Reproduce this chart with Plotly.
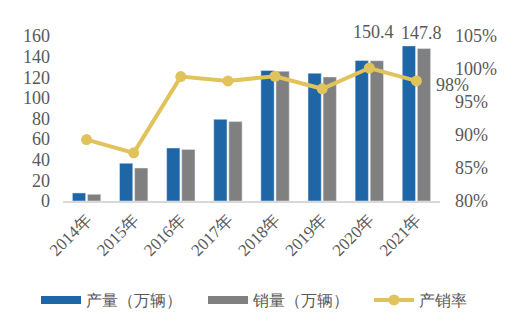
import plotly.graph_objects as go

years = ["2014年", "2015年", "2016年", "2017年", "2018年", "2019年", "2020年", "2021年"]
production = [7.8, 36.6, 51.4, 79.2, 126.5, 123.9, 136.2, 150.4]
sales = [6.5, 32.0, 50.0, 77.0, 125.8, 120.3, 136.0, 147.8]
ratio = [89.3, 87.3, 98.85, 98.2, 98.9, 97.0, 100.15, 98.2]
ratio_label = "98%"

FONT = "Liberation Serif"
GRAY = "#595959"
BLUE = "#1F66A6"
GREY_BAR = "#808080"
GOLD = "#E1C35B"

fig = go.Figure()
fig.add_trace(go.Bar(x=years, y=production, name="产量（万辆）", marker_color=BLUE,
                     yaxis="y", showlegend=False))
fig.add_trace(go.Bar(x=years, y=sales, name="销量（万辆）", marker_color=GREY_BAR,
                     yaxis="y", showlegend=False))
fig.add_trace(go.Scatter(x=years, y=ratio, name="产销率", yaxis="y2",
                         mode="lines+markers", cliponaxis=False,
                         line=dict(color=GOLD, width=4),
                         marker=dict(color=GOLD, size=11), showlegend=False))

# legend entries (one legend each, for exact placement)
fig.add_trace(go.Scatter(x=[None], y=[None], name="产量（万辆）", mode="lines",
                         line=dict(color=BLUE, width=8), legend="legend"))
fig.add_trace(go.Scatter(x=[None], y=[None], name="销量（万辆）", mode="lines",
                         line=dict(color=GREY_BAR, width=8), legend="legend2"))
fig.add_trace(go.Scatter(x=[None], y=[None], name="产销率", mode="lines+markers",
                         line=dict(color=GOLD, width=4), marker=dict(color=GOLD, size=11),
                         legend="legend3"))

fig.add_annotation(x=years[-1], y=production[-1], text=f"{production[-1]}", showarrow=False,
                   xref="x", yref="y", xshift=-43, yshift=14,
                   font=dict(size=18, color=GRAY, family=FONT))
fig.add_annotation(x=years[-1], y=sales[-1], text=f"{sales[-1]}", showarrow=False,
                   xref="x", yref="y", xshift=5, yshift=16,
                   font=dict(size=18, color=GRAY, family=FONT))
fig.add_annotation(x=years[-1], y=ratio[-1], text=ratio_label, showarrow=False,
                   xref="x", yref="y2", xanchor="left", xshift=18, yshift=-4,
                   font=dict(size=18, color=GRAY, family=FONT))

W, H = 527, 334
def leg(xpx):
    return dict(orientation="h", xref="container", yref="container",
                x=xpx / W, xanchor="left", y=(H - 300) / H, yanchor="middle",
                font=dict(size=16, color=GRAY, family=FONT), itemwidth=40,
                bgcolor="rgba(0,0,0,0)")

fig.update_layout(
    width=W, height=H,
    margin=dict(l=63, r=87, t=36, b=133, autoexpand=False),
    paper_bgcolor="white", plot_bgcolor="white",
    font=dict(family=FONT, color=GRAY, size=16),
    barmode="group", bargap=0.36, bargroupgap=0.12,
    showlegend=True,
    legend=leg(36), legend2=leg(203), legend3=leg(369),
    xaxis=dict(range=[-0.5, len(years) - 0.5], autorange=False,
               showgrid=False, showline=True, linecolor="#D9D9D9", linewidth=2,
               tickangle=-45, ticks="", tickfont=dict(size=17, color=GRAY, family=FONT)),
    yaxis=dict(range=[0, 160], dtick=20, showgrid=False, zeroline=False,
               ticks="", ticklabelstandoff=12,
               tickfont=dict(size=18, color=GRAY, family=FONT)),
    yaxis2=dict(range=[80, 105], dtick=5, overlaying="y", side="right",
                showgrid=False, zeroline=False, ticksuffix="%",
                ticks="", ticklabelstandoff=14,
                tickfont=dict(size=18, color=GRAY, family=FONT)),
)

fig.write_html("out.html")
